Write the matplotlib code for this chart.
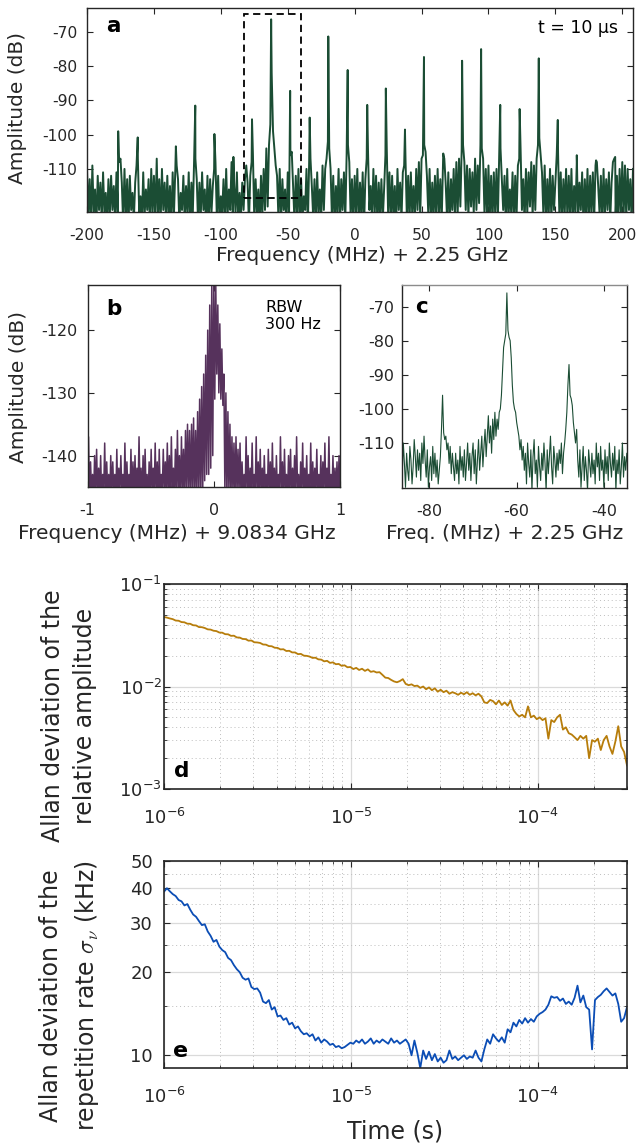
import numpy as np
import matplotlib
matplotlib.use('Agg')
import matplotlib.pyplot as plt
from matplotlib.patches import Rectangle
from matplotlib.ticker import FixedLocator, FuncFormatter, NullFormatter, LogLocator

plt.rcParams['font.family'] = ['DejaVu Sans']
plt.rcParams['mathtext.fontset'] = 'cm'
plt.rcParams['mathtext.default'] = 'regular'
plt.rcParams['axes.unicode_minus'] = False

TXT    = '#262626'
GREEN  = '#1b4d34'
PURPLE = '#56325c'
GOLD   = '#b77d0b'
BLUE   = '#0b4db5'

# ── Panel a: RF spectrum, floor sampled every 1 MHz from -200 to 208 ──────
A_FREQ = np.arange(-200, 209)
A_FLOOR = [
    -110, -124, -113, -126, -109, -123, -116, -127, -112, -122, -114, -125, -111, -123, -117, -126, -113, -124, -112, -122,
    -115, -125, -111, -123, -108, -107, -114, -126, -110, -124, -113, -127, -112, -122, -117, -125, -114, -109, -107, -123,
    -118, -126, -111, -124, -116, -122, -113, -127, -110, -123, -112, -125, -108, -124, -113, -126, -110, -122, -114, -125,
    -112, -124, -115, -127, -111, -123, -110, -109, -113, -126, -117, -122, -112, -125, -115, -123, -111, -127, -114, -124,
    -108, -107, -113, -126, -114, -124, -111, -122, -116, -127, -112, -125, -113, -123, -115, -110, -108, -124, -112, -126,
    -118, -123, -113, -126, -110, -124, -116, -122, -108, -127, -115, -123, -111, -125, -117, -124, -114, -122, -113, -109,
    -114, -126, -112, -108, -106, -125, -113, -123, -116, -127, -112, -124, -110, -122, -104, -121, -103, -97, -82, -99,
    -104, -109, -112, -124, -110, -126, -113, -122, -116, -127, -111, -123, -106, -105, -115, -125, -112, -124, -110, -126,
    -113, -125, -118, -122, -110, -127, -108, -107, -115, -124, -113, -126, -111, -123, -116, -125, -109, -122, -110, -107,
    -102, -104, -110, -124, -112, -126, -115, -123, -110, -127, -113, -122, -111, -125, -106, -103, -108, -124, -113, -126,
    -112, -123, -110, -126, -114, -124, -111, -127, -113, -107, -105, -122, -115, -125, -110, -123, -112, -126, -114, -124,
    -113, -125, -116, -106, -104, -123, -111, -126, -112, -124, -115, -127, -110, -122, -114, -125, -111, -109, -107, -124,
    -112, -126, -111, -123, -115, -125, -110, -122, -108, -124, -107, -106, -103, -105, -112, -123, -110, -126, -114, -124,
    -112, -125, -110, -123, -113, -126, -109, -107, -114, -124, -111, -127, -113, -122, -110, -125, -108, -123, -107, -121,
    -104, -103, -108, -122, -109, -124, -110, -121, -111, -123, -107, -122, -109, -120, -103, -104, -107, -123, -110, -125,
    -109, -124, -112, -126, -111, -123, -110, -125, -106, -104, -113, -122, -112, -127, -110, -124, -116, -123, -111, -126,
    -112, -124, -109, -107, -104, -122, -113, -126, -110, -123, -111, -121, -108, -124, -109, -122, -107, -103, -101, -106,
    -111, -123, -109, -126, -113, -124, -110, -125, -112, -122, -114, -106, -105, -124, -111, -126, -113, -123, -110, -125,
    -112, -124, -110, -126, -115, -123, -108, -125, -114, -122, -111, -127, -113, -124, -110, -126, -112, -123, -111, -125,
    -109, -108, -115, -123, -112, -126, -110, -124, -113, -122, -111, -125, -114, -108, -107, -124, -112, -126, -110, -123,
    -108, -124, -109, -125, -110, -122, -113, -126, -110,
]
A_PEAK_F = [-176.7, -162.1, -147.9, -133.6, -119.1, -104.8, -90.6, -76.7, -62.4, -48.2,
            -33.6, -19.7, -5.2, 9.4, 23.3, 37.6, 51.8, 66.2, 80.3, 94.5,
            108.8, 123.3, 137.6, 151.8, 166.0, 180.4, 194.7]
A_PEAK_DB = [-99.0, -100.8, -107.0, -103.4, -91.5, -99.8, -106.5, -95.5, -66.3, -87.2,
             -95.0, -71.3, -81.1, -91.3, -86.5, -98.5, -77.3, -105.5, -78.4, -75.0,
             -91.3, -92.5, -77.7, -95.7, -106.0, -107.5, -106.5]
A_BOX_F  = [-82.7, -40.0]
A_BOX_DB = [-118.6, -64.6]

# ── Panel b: beat note, 251 samples from -1 to 1 MHz ──────────────────────
B_FREQ = np.linspace(-1, 1, 251)
B_AMP = [
    -146, -137, -147, -141, -146, -143, -147, -140, -146, -139, -147, -142, -146, -140, -147, -143, -146, -138, -147, -141, -146, -143, -147, -140, -146,
    -141, -146, -143, -147, -139, -147, -142, -146, -140, -146, -143, -147, -138, -147, -141, -146, -143, -146, -139, -147, -141, -147, -140, -146, -142,
    -146, -137, -146, -142, -147, -140, -146, -139, -146, -143, -147, -141, -147, -139, -146, -142, -146, -138, -147, -141, -147, -139, -146, -143, -146,
    -139, -146, -141, -146, -138, -147, -140, -147, -137, -146, -142, -146, -139, -147, -136, -146, -140, -147, -137, -146, -139, -147, -136, -146, -135,
    -146, -136, -147, -135, -146, -134, -147, -136, -146, -133, -147, -131, -146, -129, -147, -127, -144, -124, -143, -120, -143, -116, -142, -113, -140,
    -111, -131, -113, -127, -116, -130, -119, -131, -123, -132, -127, -146, -130, -147, -133, -146, -135, -147, -137, -146, -138, -147, -137, -146, -139,
    -146, -138, -147, -141, -146, -143, -147, -137, -146, -140, -147, -142, -146, -138, -147, -143, -146, -137, -147, -141, -146, -139, -147, -142, -146,
    -140, -146, -143, -147, -139, -146, -141, -147, -138, -146, -142, -147, -140, -146, -143, -147, -137, -146, -141, -147, -139, -146, -143, -147, -140,
    -146, -139, -147, -142, -146, -140, -147, -137, -146, -143, -147, -141, -146, -138, -147, -142, -146, -140, -147, -143, -146, -138, -147, -141, -146,
    -142, -146, -139, -147, -143, -146, -140, -147, -141, -146, -138, -147, -142, -146, -137, -147, -143, -146, -140, -147, -142, -146, -141, -147, -140,
    -146,
]

# ── Panel c: zoom of the boxed region, 0.25 MHz steps ─────────────────────
C_FREQ = np.linspace(-86.5, -34.5, 209)
C_AMP = [
    -112, -119, -110, -116, -123, -113, -118, -121, -111, -115, -122, -117, -109, -114, -120, -112,
    -118, -113, -121, -110, -116, -108, -115, -120, -112, -123, -117, -114, -121, -111, -119, -113,
    -120, -115, -122, -118, -114, -106, -96, -107, -109, -108, -112, -110, -116, -111, -119, -113,
    -117, -121, -113, -119, -115, -122, -111, -118, -114, -120, -112, -121, -116, -110, -118, -113,
    -121, -114, -110, -119, -112, -122, -115, -109, -118, -113, -108, -117, -111, -106, -114, -108,
    -102, -110, -105, -113, -103, -109, -101, -108, -103, -106, -101, -100, -96, -89, -82, -80,
    -78, -66, -77, -79, -80, -85, -93, -98, -100, -101, -104, -106, -108, -112, -109, -115,
    -111, -118, -113, -122, -110, -116, -120, -112, -124, -114, -109, -119, -115, -123, -111, -117,
    -121, -113, -118, -110, -116, -124, -112, -119, -114, -108, -117, -122, -111, -115, -120, -113,
    -118, -112, -116, -110, -119, -113, -110, -106, -101, -93, -87, -96, -97, -99, -104, -107,
    -110, -106, -115, -120, -112, -123, -117, -111, -121, -114, -118, -124, -112, -116, -120, -113,
    -119, -115, -122, -110, -117, -113, -121, -111, -118, -115, -123, -112, -119, -114, -121, -110,
    -116, -120, -113, -118, -111, -124, -115, -119, -112, -122, -117, -110, -120, -114, -118, -113,
    -117,
]

# ── Panels d, e: Allan deviations on a log grid of averaging times ────────
TAU = np.logspace(-6, np.log10(3e-4), 160)
D_REL_AMP_E3 = [   # relative amplitude, in units of 1e-3
    47.6, 47.0, 46.1, 45.4, 44.0, 43.8, 42.5, 42.3, 41.0, 40.9,
    39.6, 39.4, 38.0, 37.9, 37.2, 36.1, 35.9, 35.0, 34.7, 33.6,
    33.5, 32.4, 32.3, 31.2, 31.3, 30.1, 30.0, 29.1, 29.0, 28.0,
    28.1, 27.0, 26.9, 26.6, 25.7, 25.6, 24.8, 24.7, 23.9, 23.8,
    23.0, 23.1, 22.2, 22.3, 21.5, 21.5, 20.7, 20.8, 20.0, 19.9,
    19.6, 19.0, 19.1, 18.4, 18.3, 17.6, 17.8, 17.0, 17.2, 16.5,
    16.6, 15.9, 16.1, 15.4, 15.5, 14.8, 15.2, 14.5, 14.9, 14.2,
    14.7, 13.9, 14.1, 13.7, 13.8, 13.0, 12.2, 12.1, 11.6, 11.2,
    11.0, 11.3, 11.8, 10.6, 10.3, 10.5, 10.1, 10.2, 9.7, 10.0,
    9.4, 9.8, 9.2, 9.6, 8.9, 9.3, 8.8, 9.1, 8.5, 8.8,
    8.6, 8.3, 8.7, 8.4, 8.8, 8.3, 8.6, 8.2, 8.5, 8.0,
    7.0, 6.9, 7.4, 7.2, 6.7, 7.3, 6.6, 7.0, 6.5, 7.3,
    5.9, 5.4, 5.1, 5.3, 5.0, 6.4, 5.0, 5.2, 4.8, 5.0,
    4.7, 4.9, 3.1, 4.7, 4.5, 5.0, 5.3, 3.8, 4.0, 3.5,
    3.4, 3.2, 3.0, 3.3, 3.1, 3.3, 2.0, 3.0, 2.9, 3.1,
    2.4, 3.0, 3.3, 2.6, 2.2, 2.9, 4.1, 2.6, 2.3, 1.7,
]
E_REP_KHZ = [
    38.8, 39.9, 38.9, 38.0, 37.4, 36.2, 35.8, 34.6, 35.0, 33.4,
    32.1, 31.5, 30.4, 29.4, 29.6, 27.9, 26.9, 25.6, 26.0, 24.6,
    23.9, 23.5, 22.4, 22.0, 21.1, 20.4, 19.9, 19.0, 18.7, 18.9,
    17.6, 17.3, 17.4, 16.8, 15.6, 15.4, 15.8, 14.6, 14.9, 13.8,
    13.9, 13.4, 13.6, 12.9, 13.1, 12.5, 12.7, 12.2, 11.9, 12.0,
    11.7, 11.9, 11.3, 11.6, 11.1, 11.4, 11.2, 10.9, 11.0, 10.7,
    10.8, 10.6, 10.7, 10.9, 11.1, 11.0, 11.3, 11.1, 11.4, 11.0,
    11.2, 11.5, 11.0, 11.3, 11.1, 11.4, 11.2, 11.0, 11.5, 11.1,
    11.3, 11.0, 11.2, 11.4, 11.0, 10.0, 11.3, 10.2, 9.0, 10.4,
    9.7, 10.3, 9.6, 10.1, 9.5, 9.8, 9.4, 9.6, 10.4, 9.7,
    9.9, 9.6, 9.8, 10.0, 9.7, 9.9, 9.8, 10.4, 9.8, 9.5,
    10.5, 11.4, 11.0, 11.9, 11.5, 11.2, 11.6, 11.1, 12.4, 12.1,
    13.1, 12.7, 13.4, 13.0, 13.6, 13.1, 13.5, 13.2, 13.8, 14.1,
    14.3, 14.6, 15.2, 16.3, 16.1, 16.2, 15.7, 16.0, 15.3, 15.6,
    15.2, 16.1, 17.8, 15.5, 16.4, 14.9, 14.6, 10.5, 15.8, 16.2,
    16.5, 17.0, 17.4, 16.9, 16.4, 16.7, 15.3, 13.2, 13.6, 14.9,
]


# ── Helpers ────────────────────────────────────────────────────────────────
def style_spectrum(ax, xticks, yticks, xpad=11.5, ypad=7, size=11.5):
    ax.set_xticks(xticks)
    ax.set_yticks(yticks)
    ax.tick_params(direction='in', top=True, right=True, length=4, width=0.8,
                   labelsize=size, color=TXT, labelcolor=TXT)
    ax.tick_params(axis='x', pad=xpad)
    ax.tick_params(axis='y', pad=ypad)
    for s in ax.spines.values():
        s.set_color(TXT)
        s.set_linewidth(1.0)


def style_allan(ax, ypad):
    ax.set_xscale('log')
    ax.set_yscale('log')
    ax.set_xlim(1e-6, 3e-4)
    ax.xaxis.set_major_locator(FixedLocator([1e-6, 1e-5, 1e-4]))
    ax.xaxis.set_major_formatter(FuncFormatter(lambda v, p: r'$10^{%d}$' % round(np.log10(v))))
    ax.xaxis.set_minor_locator(LogLocator(base=10, subs=range(2, 10)))
    ax.xaxis.set_minor_formatter(NullFormatter())
    ax.grid(which='major', color='#dadada', lw=0.9, ls='-')
    ax.grid(which='minor', color='#bdbdbd', lw=0.7, ls=(0, (1, 3)))
    ax.set_axisbelow(True)
    ax.tick_params(which='both', direction='in', top=True, right=True,
                   color=TXT, labelcolor=TXT, labelsize=13)
    ax.tick_params(which='major', length=4, width=0.8)
    ax.tick_params(which='minor', length=2.2, width=0.6)
    ax.tick_params(axis='x', which='both', pad=13.5)
    ax.tick_params(axis='y', which='both', pad=ypad)
    for s in ax.spines.values():
        s.set_color(TXT)
        s.set_linewidth(1.2)


def panel_label(ax, letter, x, y, size=15.5):
    ax.text(x, y, letter, transform=ax.transAxes, fontsize=size,
            fontweight='bold', color='black', ha='left', va='baseline')


# ── Plot ───────────────────────────────────────────────────────────────────
fig = plt.figure(figsize=(6.37, 11.48), dpi=100)

# a: full spectrum with dashed zoom box
ax = fig.add_axes([0.1366, 0.8153, 0.8571, 0.1777])
fa = np.concatenate([A_FREQ, A_PEAK_F])
ya = np.concatenate([A_FLOOR, A_PEAK_DB])
order = np.argsort(fa, kind='stable')
ax.plot(fa[order], ya[order], color=GREEN, lw=1.4)
ax.add_patch(Rectangle((A_BOX_F[0], A_BOX_DB[0]), A_BOX_F[1] - A_BOX_F[0],
                       A_BOX_DB[1] - A_BOX_DB[0], fill=False, ec='black',
                       lw=1.3, ls=(0, (4, 2.5)), zorder=5))
ax.set_xlim(-200, 208)
ax.set_ylim(-122.6, -63.0)
style_spectrum(ax, [-200, -150, -100, -50, 0, 50, 100, 150, 200],
               [-110, -100, -90, -80, -70], size=11.2)
ax.set_ylabel('Amplitude (dB)', fontsize=14.5, color=TXT, va='center')
ax.yaxis.set_label_coords(-0.127, 0.51)
ax.set_xlabel('Frequency (MHz) + 2.25 GHz', fontsize=14.5, color=TXT, va='center')
ax.xaxis.set_label_coords(0.503, -0.211)
panel_label(ax, 'a', 0.035, 0.882)
ax.text(0.972, 0.877, 't = 10 μs', transform=ax.transAxes, fontsize=12.5,
        color='black', ha='right', va='baseline')

# b: beat note
ax = fig.add_axes([0.1374, 0.5758, 0.3964, 0.1760])
ax.plot(B_FREQ, B_AMP, color=PURPLE, lw=1.1)
ax.set_xlim(-1, 1)
ax.set_ylim(-145, -112.8)
style_spectrum(ax, [-1, 0, 1], [-140, -130, -120])
ax.set_ylabel('Amplitude (dB)', fontsize=14.5, color=TXT, va='center')
ax.yaxis.set_label_coords(-0.275, 0.495)
ax.set_xlabel('Frequency (MHz) + 9.0834 GHz', fontsize=14.5, color=TXT, va='center')
ax.xaxis.set_label_coords(0.354, -0.228)
panel_label(ax, 'b', 0.073, 0.851)
ax.text(0.703, 0.926, 'RBW\n300 Hz', transform=ax.transAxes, fontsize=11.5,
        color='black', ha='left', va='top')

# c: zoom on the boxed region
ax = fig.add_axes([0.6311, 0.5749, 0.3532, 0.1768])
ax.plot(C_FREQ, C_AMP, color=GREEN, lw=0.8)
ax.set_xlim(-86.3, -34.7)
ax.set_ylim(-123.2, -63.7)
style_spectrum(ax, [-80, -60, -40], [-110, -100, -90, -80, -70], ypad=5.5)
ax.spines['top'].set_color('#8c8c8c')
ax.set_xlabel('Freq. (MHz) + 2.25 GHz', fontsize=14.5, color=TXT, va='center')
ax.xaxis.set_label_coords(0.456, -0.222)
panel_label(ax, 'c', 0.058, 0.862)

# d: Allan deviation of the relative amplitude
ax = fig.add_axes([0.2575, 0.3127, 0.7268, 0.1786])
ax.plot(TAU, np.array(D_REL_AMP_E3) * 1e-3, color=GOLD, lw=1.3)
style_allan(ax, ypad=1.5)
ax.set_ylim(1e-3, 1e-1)
ax.yaxis.set_major_locator(FixedLocator([1e-3, 1e-2, 1e-1]))
ax.yaxis.set_major_formatter(FuncFormatter(lambda v, p: r'$10^{%d}$' % round(np.log10(v))))
ax.yaxis.set_minor_locator(LogLocator(base=10, subs=range(2, 10)))
ax.yaxis.set_minor_formatter(NullFormatter())
ax.set_ylabel('Allan deviation of the\nrelative amplitude', fontsize=17,
              color=TXT, va='center', linespacing=1.45)
ax.yaxis.set_label_coords(-0.205, 0.356)
panel_label(ax, 'd', 0.0216, 0.0585)

# e: Allan deviation of the repetition rate
ax = fig.add_axes([0.2575, 0.0697, 0.7268, 0.1803])
ax.plot(TAU, E_REP_KHZ, color=BLUE, lw=1.3)
style_allan(ax, ypad=8)
ax.set_ylim(9, 50)
ax.yaxis.set_major_locator(FixedLocator([10, 20, 30, 40, 50]))
ax.yaxis.set_major_formatter(FuncFormatter(lambda v, p: '%d' % v))
ax.yaxis.set_minor_locator(FixedLocator([15, 25, 35, 45]))
ax.yaxis.set_minor_formatter(NullFormatter())
ax.set_ylabel('Allan deviation of the\nrepetition rate $\\mathit{\\sigma_\\nu}$ (kHz)',
              fontsize=17, color=TXT, va='center', linespacing=1.45)
ax.yaxis.set_label_coords(-0.203, 0.348)
ax.set_xlabel('Time (s)', fontsize=17, color=TXT, va='center')
ax.xaxis.set_label_coords(0.5, -0.309)
panel_label(ax, 'e', 0.0194, 0.053, size=16)

fig.savefig('out.png', dpi=100)
